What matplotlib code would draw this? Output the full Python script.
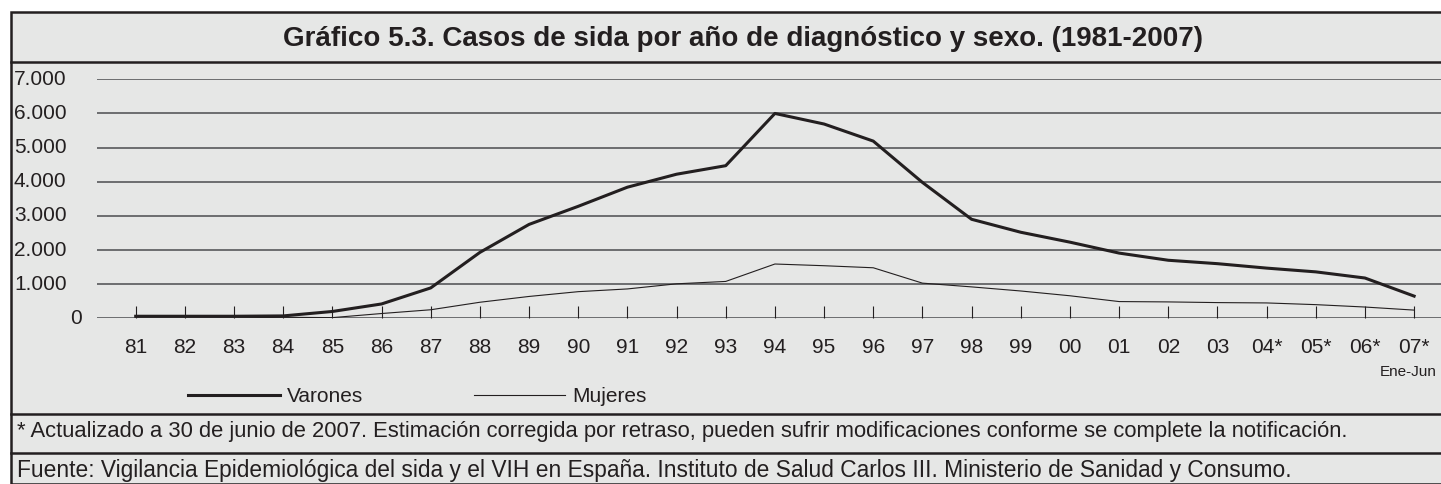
import matplotlib
matplotlib.use("Agg")
import matplotlib.pyplot as plt
from matplotlib.patches import Rectangle
from matplotlib.lines import Line2D
from matplotlib.transforms import blended_transform_factory

plt.rcParams['font.family'] = ['Liberation Sans', 'DejaVu Sans']

# datos
anios = ["81", "82", "83", "84", "85", "86", "87", "88", "89", "90", "91", "92", "93",
         "94", "95", "96", "97", "98", "99", "00", "01", "02", "03", "04*", "05*", "06*", "07*"]
varones = [60, 60, 60, 70, 200, 420, 890, 1930, 2750, 3280, 3840, 4220, 4470,
           6000, 5690, 5190, 3980, 2900, 2520, 2230, 1910, 1700, 1600, 1470, 1360, 1180, 650]
mujeres = [5, 5, 10, 30, 20, 140, 250, 470, 640, 780, 860, 1010, 1080,
           1590, 1540, 1480, 1030, 920, 800, 660, 490, 480, 460, 450, 400, 330, 240]
y_ticks = [0, 1000, 2000, 3000, 4000, 5000, 6000, 7000]
y_labels = ["0", "1.000", "2.000", "3.000", "4.000", "5.000", "6.000", "7.000"]

titulo = "Gráfico 5.3. Casos de sida por año de diagnóstico y sexo. (1981-2007)"
nota = ("* Actualizado a 30 de junio de 2007. Estimación corregida por retraso, pueden sufrir "
        "modificaciones conforme se complete la notificación.")
fuente = ("Fuente: Vigilancia Epidemiológica del sida y el VIH en España. Instituto de Salud "
          "Carlos III. Ministerio de Sanidad y Consumo.")

W, H = 1441, 484
bg = "#e6e7e6"
ink = "#231f20"
grid_c = "#58595b"


def fx(px):
    return px / W


def fy(py):
    return 1 - py / H


fig = plt.figure(figsize=(W / 100, H / 100), dpi=100, facecolor="white")

# marco y fondo
fig.patches.append(Rectangle((fx(11), 0), 1, fy(12), transform=fig.transFigure,
                             facecolor=bg, edgecolor=ink, linewidth=1.8, zorder=-10))
for yy in [62, 414, 453]:
    fig.add_artist(Line2D([fx(11), 1], [fy(yy), fy(yy)], transform=fig.transFigure,
                          color=ink, linewidth=1.8, zorder=-5))

fig.text(fx(743), fy(39), titulo, ha="center", va="center", fontsize=20,
         fontweight="bold", color=ink)

# ejes
x0, dx = 135.7, 49.17
y0 = 318.3
ax = fig.add_axes([fx(97), fy(y0), 1 - fx(97), (y0 - 79.3) / H])
ax.set_facecolor("none")
ax.set_zorder(2)
ax.set_xlim((97 - x0) / dx, (W - x0) / dx)
ax.set_ylim(0, 7000)
for s in ax.spines.values():
    s.set_visible(False)

for v in y_ticks:
    ax.axhline(v, color=grid_c, linewidth=1.2, zorder=1)

xs = list(range(len(anios)))
l_muj, = ax.plot(xs, mujeres, color=ink, linewidth=0.8, zorder=3, label="Mujeres")
l_var, = ax.plot(xs, varones, color=ink, linewidth=2.2, zorder=4, label="Varones")

# etiquetas del eje y: el 0 alineado a la derecha, el resto pegadas al marco
ax.set_yticks(y_ticks)
ax.set_yticklabels([])
ax.tick_params(axis="y", length=0)
ytr = blended_transform_factory(fig.transFigure, ax.transData)
for v, lab in zip(y_ticks, y_labels):
    if lab == "0":
        fig.text(fx(82), v, lab, transform=ytr, ha="right", va="center",
                 fontsize=15, color=ink)
    else:
        fig.text(fx(14), v, lab, transform=ytr, ha="left", va="center",
                 fontsize=15, color=ink)

ax.set_xticks(xs)
ax.set_xticklabels(anios)
ax.tick_params(axis="x", direction="in", length=9, width=0.8, color=ink,
               pad=14.5, labelsize=15, labelcolor=ink)

fig.text(fx(1437), fy(372), "Ene-Jun", ha="right", va="center", fontsize=11, color=ink)

# leyenda
fig.legend([l_var, l_muj], ["Varones", "Mujeres"], loc="center left", ncol=2,
           bbox_to_anchor=(fx(188), fy(397)), bbox_transform=fig.transFigure,
           frameon=False, fontsize=15, handlelength=4.4, handletextpad=0.35,
           columnspacing=5.3, borderpad=0, borderaxespad=0, labelcolor=ink)

fig.text(fx(17), fy(432), nota, ha="left", va="center", fontsize=15.85, color=ink)
fig.text(fx(17), fy(470), fuente, ha="left", va="center", fontsize=16.4, color=ink)

fig.savefig("out.png", dpi=100, facecolor="white")
